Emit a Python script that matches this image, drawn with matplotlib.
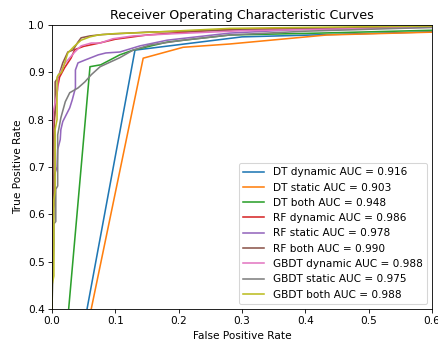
import matplotlib
matplotlib.use('Agg')
import matplotlib.pyplot as plt

# ROC points (fpr, tpr)
dt_dyn_fpr = [0, 0.131, 0.30, 1]
dt_dyn_tpr = [0, 0.947, 0.975, 1]

dt_sta_fpr = [0, 0.144, 0.207, 0.281, 0.434, 0.60, 1]
dt_sta_tpr = [0, 0.930, 0.953, 0.960, 0.979, 0.985, 1]

dt_both_fpr = [0, 0.060, 0.077, 0.107, 0.128, 0.182, 0.281, 0.423, 0.60, 1]
dt_both_tpr = [0, 0.912, 0.916, 0.937, 0.947, 0.964, 0.979, 0.983, 0.989, 1]

rf_dyn_fpr = [0, 0, 0.003, 0.006, 0.009, 0.012, 0.020, 0.030, 0.036, 0.050, 0.075, 0.100, 0.150, 0.191, 0.281, 0.60, 1]
rf_dyn_tpr = [0, 0.70, 0.78, 0.84, 0.87, 0.89, 0.91, 0.93, 0.948, 0.955, 0.962, 0.970, 0.979, 0.983, 0.991, 0.996, 1]

rf_sta_fpr = [0, 0, 0.003, 0.003, 0.008, 0.009, 0.013, 0.014, 0.017, 0.028, 0.032, 0.037, 0.037, 0.041, 0.052,
              0.073, 0.085, 0.107, 0.139, 0.182, 0.281, 0.396, 0.60, 1]
rf_sta_tpr = [0, 0.55, 0.60, 0.68, 0.70, 0.737, 0.758, 0.779, 0.796, 0.825, 0.842, 0.867, 0.905, 0.920, 0.926,
              0.937, 0.941, 0.943, 0.956, 0.968, 0.983, 0.991, 0.996, 1]

rf_both_fpr = [0, 0, 0.003, 0.003, 0.005, 0.005, 0.010, 0.017, 0.025, 0.033, 0.041, 0.046, 0.060, 0.080, 0.150, 0.30, 0.60, 1]
rf_both_tpr = [0, 0.60, 0.62, 0.80, 0.82, 0.88, 0.89, 0.92, 0.943, 0.947, 0.964, 0.973, 0.977, 0.980, 0.985, 0.990, 0.997, 1]

gb_dyn_fpr = [0, 0, 0.002, 0.005, 0.009, 0.009, 0.021, 0.036, 0.046, 0.062, 0.076, 0.096, 0.128, 0.182, 0.30, 0.60, 1]
gb_dyn_tpr = [0, 0.75, 0.817, 0.836, 0.863, 0.890, 0.920, 0.943, 0.956, 0.962, 0.962, 0.971, 0.977, 0.981, 0.988, 0.995, 1]

gb_sta_fpr = [0, 0, 0.003, 0.003, 0.006, 0.006, 0.009, 0.009, 0.014, 0.021, 0.028, 0.041, 0.052, 0.062, 0.076,
              0.107, 0.128, 0.155, 0.207, 0.281, 0.40, 0.60, 1]
gb_sta_tpr = [0, 0.406, 0.54, 0.580, 0.585, 0.653, 0.66, 0.768, 0.804, 0.838, 0.857, 0.867, 0.880, 0.895, 0.912,
              0.931, 0.947, 0.958, 0.968, 0.979, 0.987, 0.995, 1]

gb_both_fpr = [0, 0, 0.003, 0.003, 0.005, 0.005, 0.008, 0.008, 0.010, 0.015, 0.020, 0.025, 0.035, 0.046, 0.060,
               0.073, 0.100, 0.143, 0.281, 0.40, 0.60, 1]
gb_both_tpr = [0, 0.45, 0.47, 0.63, 0.65, 0.78, 0.80, 0.89, 0.895, 0.90, 0.92, 0.941, 0.955, 0.968, 0.975,
               0.979, 0.982, 0.984, 0.993, 0.995, 0.998, 1]

labels = ['DT dynamic', 'DT static', 'DT both', 'RF dynamic', 'RF static', 'RF both',
          'GBDT dynamic', 'GBDT static', 'GBDT both']
aucs = [0.916, 0.903, 0.948, 0.986, 0.978, 0.990, 0.988, 0.975, 0.988]

curves = [(dt_dyn_fpr, dt_dyn_tpr), (dt_sta_fpr, dt_sta_tpr), (dt_both_fpr, dt_both_tpr),
          (rf_dyn_fpr, rf_dyn_tpr), (rf_sta_fpr, rf_sta_tpr), (rf_both_fpr, rf_both_tpr),
          (gb_dyn_fpr, gb_dyn_tpr), (gb_sta_fpr, gb_sta_tpr), (gb_both_fpr, gb_both_tpr)]

fig = plt.figure(figsize=(438 / 76, 343 / 76), dpi=76)
ax = fig.add_axes([0.1187, 0.0990, 0.8676, 0.828])

for (fpr, tpr), name, auc in zip(curves, labels, aucs):
    ax.plot(fpr, tpr, label='%s AUC = %.3f' % (name, auc))

ax.set_xlim(0, 0.6)
ax.set_ylim(0.4, 1.0)
ax.set_xlabel('False Positive Rate')
ax.set_ylabel('True Positive Rate')
ax.set_title('Receiver Operating Characteristic Curves')
ax.legend(loc='lower right')

fig.savefig('out.png', dpi=76)
